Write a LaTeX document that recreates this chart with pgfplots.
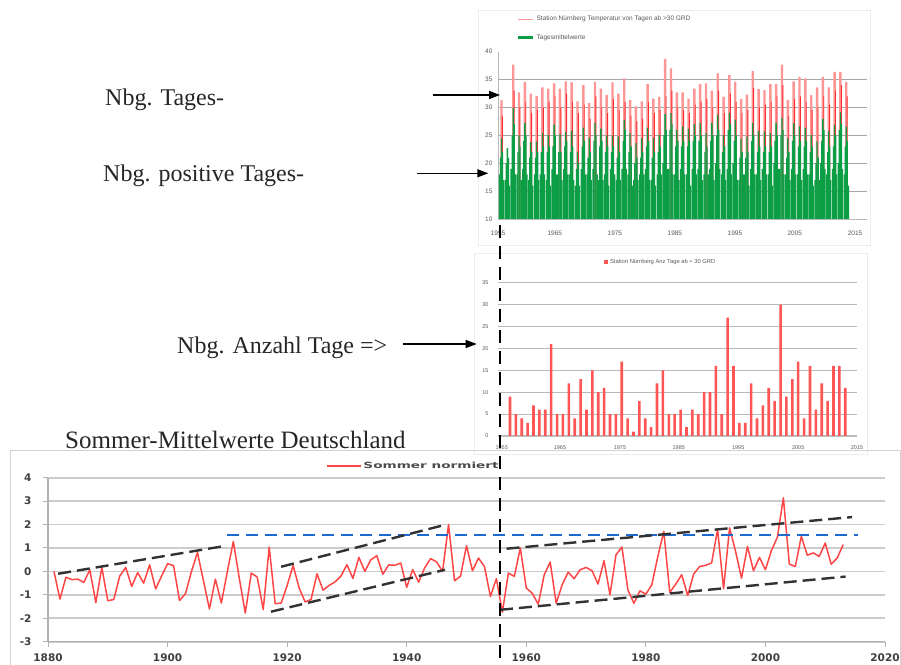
\documentclass[border=0pt]{standalone}
\usepackage{pgfplots}
\pgfplotsset{compat=1.18}
\usepackage{pgfplotstable}
\usepackage{fontspec}
\setmainfont{Liberation Serif}
\newfontfamily\lsans{Liberation Sans}
\newfontfamily\dvsans{DejaVu Sans}
\usetikzlibrary{arrows.meta}
\definecolor{pinkc}{RGB}{255,150,150}
\definecolor{darkred}{RGB}{255,45,45}
\definecolor{gbar}{RGB}{12,158,68}
\definecolor{midred}{RGB}{255,85,85}
\definecolor{linered}{RGB}{255,70,70}
\definecolor{trendc}{RGB}{50,50,50}
\definecolor{bluedash}{RGB}{30,105,205}
\definecolor{tickgray}{RGB}{90,90,90}

% top chart: one cluster per summer (R = max temp, D = secondary max, G = peak daily mean, A,B,C,E = other daily means)
\pgfplotstableread{
x R D G A B C E
0 31.3 28.5 24.5 18 21 22 17
1 10 10 22.7 17 20 21 16
2 37.7 33 29.9 19 25 27 18
3 32.7 30 25 18 22 23 17
4 34.6 31 27.2 19 24 25 18
5 32.5 29 23.8 17 21 22 16
6 32.1 29.5 23.9 18 21 22 17
7 33.6 30 25.4 18 22 23 18
8 33.4 31 25.1 17 22 23 16
9 34.3 32 26.9 19 23 25 18
10 33.4 30 25.2 18 22 22 17
11 34.7 32.5 25.6 19 23 24 18
12 34.5 31 25.8 18 22 23 17
13 31.1 29 22.1 16 19 20 16
14 34.0 30.5 26.4 19 23 24 18
15 30.8 28 24.6 18 21 22 17
16 34.6 32 27.2 19 24 25 18
17 33.4 30 26.2 17 23 24 17
18 32.2 29 25.0 18 22 23 16
19 34.5 31.5 25.0 19 22 23 18
20 32.5 29.5 24.8 17 21 22 17
21 35.2 31 27.8 19 24 26 19
22 31.3 28.5 25.4 18 22 23 16
23 30.2 27.5 23.6 17 20 21 17
24 31.1 28 24.5 18 21 22 18
25 34.2 31 26.4 19 23 24 17
26 31.6 29 24.6 17 21 22 16
27 31.9 29.5 25.1 18 22 23 18
28 38.7 32 28.8 20 25 26 19
29 37.0 33 29.0 19 26 27 18
30 32.7 30 26.0 18 23 24 17
31 32.7 29.5 26.6 19 23 24 18
32 31.6 29 26.2 18 23 24 16
33 33.4 30.5 27.0 19 24 25 18
34 34.2 31 27.2 19 24 25 17
35 34.3 31.5 25.4 18 22 23 18
36 33.0 30 27.2 19 24 25 17
37 36.1 33 28.7 20 25 26 19
38 31.9 29 25.1 18 22 23 17
39 35.8 32.5 29.0 19 26 27 18
40 34.6 31 27.8 20 24 25 17
41 31.5 29 24.4 17 21 22 18
42 32.3 29.5 24.8 18 21 22 16
43 36.5 33.5 27.2 19 24 25 18
44 33.3 30 25.8 18 22 23 17
45 33.1 30.5 25.7 19 22 23 18
46 34.2 31 25.4 18 22 23 16
47 34.2 32 27.2 20 24 25 19
48 37.7 34 28.1 19 25 26 18
49 31.3 28.5 24.5 18 21 22 17
50 34.7 31.5 27.2 19 24 25 18
51 35.5 32 26.6 18 23 24 17
52 35.2 31 26.4 19 23 24 18
53 32.2 29.5 25.1 18 22 23 16
54 33.6 30 23.9 17 20 21 17
55 35.5 32 27.9 20 24 26 19
56 33.6 30.5 25.8 18 22 23 17
57 36.4 33 26.9 19 23 25 18
58 36.4 34 29.1 20 26 27 19
59 34.6 32 26.6 18 23 24 16
}\toptab

% middle chart: number of days >= 30 deg per year
\pgfplotstableread{
x n
0 9
1 5
2 4
3 3
4 7
5 6
6 6
7 21
8 5
9 5
10 12
11 4
12 13
13 6
14 15
15 10
16 11
17 5
18 5
19 17
20 4
21 1
22 8
23 4
24 2
25 12
26 15
27 5
28 5
29 6
30 2
31 6
32 5
33 10
34 10
35 16
36 5
37 27
38 16
39 3
40 3
41 12
42 4
43 7
44 11
45 8
46 30
47 9
48 13
49 17
50 4
51 16
52 6
53 12
54 8
55 16
56 16
57 11
}\midtab

% bottom chart: normalised German summer means
\pgfplotstableread{
year v
1881 0.0
1882 -1.18
1883 -0.25
1884 -0.35
1885 -0.33
1886 -0.47
1887 0.07
1888 -1.33
1889 0.17
1890 -1.25
1891 -1.2
1892 -0.2
1893 0.17
1894 -0.64
1895 -0.05
1896 -0.5
1897 0.28
1898 -0.75
1899 -0.2
1900 0.33
1901 0.25
1902 -1.24
1903 -0.95
1904 0.0
1905 0.81
1906 -0.4
1907 -1.6
1908 -0.33
1909 -1.35
1910 0.0
1911 1.28
1912 -0.3
1913 -1.78
1914 -0.07
1915 -0.24
1916 -1.63
1917 1.04
1918 -1.38
1919 -1.35
1920 -0.6
1921 0.25
1922 -0.7
1923 -1.3
1924 -1.2
1925 -0.1
1926 -0.8
1927 -0.6
1928 -0.45
1929 -0.2
1930 0.29
1931 -0.3
1932 0.6
1933 0.0
1934 0.5
1935 0.67
1936 -0.12
1937 0.28
1938 0.26
1939 0.36
1940 -0.68
1941 0.08
1942 -0.46
1943 0.15
1944 0.55
1945 0.4
1946 0.0
1947 2.0
1948 -0.4
1949 -0.2
1950 1.1
1951 0.03
1952 0.57
1953 0.21
1954 -1.07
1955 -0.31
1956 -1.74
1957 -0.07
1958 -0.21
1959 1.0
1960 -0.71
1961 -0.93
1962 -1.4
1963 -0.14
1964 0.4
1965 -1.36
1966 -0.57
1967 -0.03
1968 -0.31
1969 0.07
1970 0.17
1971 0.03
1972 -0.54
1973 0.46
1974 -1.0
1975 0.71
1976 1.04
1977 -0.79
1978 -1.36
1979 -0.83
1980 -0.97
1981 -0.57
1982 0.64
1983 1.71
1984 -0.9
1985 -0.54
1986 -0.14
1987 -1.03
1988 -0.11
1989 0.21
1990 0.26
1991 0.36
1992 1.79
1993 -0.74
1994 1.86
1995 0.86
1996 -0.29
1997 1.07
1998 0.03
1999 0.6
2000 0.07
2001 0.89
2002 1.46
2003 3.14
2004 0.31
2005 0.21
2006 1.5
2007 0.69
2008 0.79
2009 0.64
2010 1.21
2011 0.31
2012 0.57
2013 1.14
}\bottab

\begin{document}
\begin{tikzpicture}[x=1pt,y=1pt]
\fill[white] (0,0) rectangle (901,664);
\path[use as bounding box] (0,0) rectangle (901,664);

% faint frames
\draw[gray!15, line width=0.6pt] (478,419) rectangle (870,654);
\draw[gray!15, line width=0.6pt] (474,210) rectangle (867,411);
\draw[gray!35, line width=0.8pt] (10,-2) rectangle (900,214);

% ---------------- top chart ----------------
\begin{axis}[at={(498pt,445pt)}, anchor=south west, scale only axis,
  width=369pt, height=167.3pt,
  xmin=-0.6, xmax=62.55, ymin=10, ymax=40,
  axis lines*=left, axis line style={draw=gray!55, line width=0.6pt},
  ytick={10,15,20,25,30,35}, extra y ticks={40}, extra y tick style={grid=none},
  ymajorgrids, grid style={draw=gray!70, line width=0.8pt},
  xtick={-0.6,9.13,19.4,29.67,39.95,50.2,60.5},
  xticklabels={1955,1965,1975,1985,1995,2005,2015},
  major tick length=0pt,
  tick label style={font=\lsans\fontsize{6.5}{7}\selectfont, text=tickgray},
  /pgf/number format/assume math mode=true,
  xticklabel style={yshift=-8pt},
  yticklabel style={xshift=-2pt},
  legend style={at={(axis description cs:0.05,1.225)}, anchor=north west, draw=none, fill=none,
    font=\lsans\fontsize{6.5}{7}\selectfont, text=tickgray, row sep=8pt, inner sep=0pt},
  legend cell align=left,
]
\addplot[ybar, bar width=2.4pt, bar shift=0pt, fill=pinkc, draw=none,
  legend image code/.code={\draw[pinkc, line width=1.4pt] (0pt,0pt) -- (15pt,0pt);}]
  table[x=x,y=R]{\toptab};
\addlegendentry{Station Nürnberg Temperatur von Tagen ab >30 GRD}
\addplot[ybar, bar width=0.9pt, bar shift=0.9pt, fill=darkred, draw=none, forget plot]
  table[x=x,y=D]{\toptab};
\addplot[ybar, bar width=1.5pt, bar shift=-2.0pt, fill=gbar, draw=none, forget plot]
  table[x=x,y=A]{\toptab};
\addplot[ybar, bar width=1.4pt, bar shift=-1.0pt, fill=gbar, draw=none, forget plot]
  table[x=x,y=B]{\toptab};
\addplot[ybar, bar width=1.4pt, bar shift=1.0pt, fill=gbar, draw=none, forget plot]
  table[x=x,y=C]{\toptab};
\addplot[ybar, bar width=1.5pt, bar shift=2.0pt, fill=gbar, draw=none, forget plot]
  table[x=x,y=E]{\toptab};
\addplot[ybar, bar width=1.3pt, bar shift=0pt, fill=gbar, draw=none,
  legend image code/.code={\draw[gbar, line width=3pt] (0pt,0pt) -- (15pt,0pt);}]
  table[x=x,y=G]{\toptab};
\addlegendentry{Tagesmittelwerte}
\end{axis}

% ---------------- middle chart ----------------
\begin{axis}[at={(498pt,228pt)}, anchor=south west, scale only axis,
  width=359pt, height=153.3pt,
  xmin=-2.04, xmax=59.0, ymin=0, ymax=35,
  axis lines*=left, axis line style={draw=gray!50, line width=0.6pt},
  y axis line style={draw=none},
  ytick={0,5,...,35},
  ymajorgrids, grid style={draw=gray!55, line width=1pt},
  xtick={-1.41,8.5,18.7,28.7,38.8,49.0,59.0},
  xticklabels={1955,1965,1975,1985,1995,2005,2015},
  major tick length=0pt,
  tick label style={font=\lsans\fontsize{5.5}{6}\selectfont, text=tickgray},
  /pgf/number format/assume math mode=true,
  xticklabel style={yshift=-6pt},
  yticklabel style={xshift=-6pt},
  legend style={at={(axis description cs:0.295,1.165)}, anchor=north west, draw=none, fill=none,
    font=\lsans\fontsize{5.8}{6}\selectfont, text=tickgray, inner sep=0pt},
]
\addplot[ybar, bar width=2.6pt, bar shift=0pt, fill=midred, draw=none,
  legend image code/.code={\fill[midred] (0pt,-2pt) rectangle (4pt,2pt);}]
  table[x=x,y=n]{\midtab};
\addlegendentry{Station Nürnberg Anz Tage ab + 30 GRD}
\end{axis}

% ---------------- bottom chart ----------------
\begin{axis}[at={(48pt,22.3pt)}, anchor=south west, scale only axis,
  width=837pt, height=164pt,
  xmin=1880, xmax=2020, ymin=-3, ymax=4,
  axis lines*=left, axis line style={draw=gray!60, line width=1.2pt},
  xtick={1880,1900,...,2020}, ytick={-3,...,4},
  ymajorgrids, grid style={draw=gray!40, line width=1.8pt},
  tick align=outside, major tick length=5pt, tick style={draw=gray!60, line width=1pt},
  tick label style={font=\dvsans\bfseries\fontsize{10.5}{12}\selectfont, text=black!75},
  /pgf/number format/assume math mode=true, /pgf/number format/1000 sep={},
  xticklabel style={yshift=-3pt},
  yticklabel style={xshift=-8pt},
  legend style={at={(axis description cs:0.332,1.108)}, anchor=north west, draw=none, fill=none,
    font=\dvsans\bfseries\fontsize{8.5}{10}\selectfont, text=black!70, inner sep=0pt},
  clip=false,
]
\addplot[color=linered, line width=1.5pt, line join=round,
  legend image code/.code={\draw[linered, line width=1.4pt] (0pt,0pt) -- (34pt,0pt);}]
  table[x=year,y=v]{\bottab};
\addlegendentry{\scalebox{1.6}[1]{Sommer normiert}}
\addplot[color=bluedash, line width=2pt, dash pattern=on 12pt off 7pt, forget plot]
  coordinates {(1910,1.54) (2015.4,1.54)};
\addplot[color=trendc, line width=2.4pt, dash pattern=on 13pt off 6pt, forget plot]
  coordinates {(1881.7,-0.1) (1909.9,1.1)};
\addplot[color=trendc, line width=2.4pt, dash pattern=on 13pt off 6pt, forget plot]
  coordinates {(1919.0,0.2) (1946.6,2.0)};
\addplot[color=trendc, line width=2.4pt, dash pattern=on 13pt off 6pt, forget plot]
  coordinates {(1917.3,-1.72) (1946.4,0.07)};
\addplot[color=trendc, line width=2.4pt, dash pattern=on 13pt off 6pt, forget plot]
  coordinates {(1956.7,0.97) (2014.5,2.32)};
\addplot[color=trendc, line width=2.4pt, dash pattern=on 13pt off 6pt, forget plot]
  coordinates {(1955.6,-1.64) (2013.4,-0.22)};
\end{axis}

% ---------------- annotations ----------------
\node[anchor=base west, inner sep=0, font=\fontsize{24}{28}\selectfont, text=black!85] at (105,558) {Nbg. Tages-};
\node[anchor=base west, inner sep=0, font=\fontsize{24}{28}\selectfont, text=black!85] at (103,482.3) {Nbg. positive Tages-};
\node[anchor=base west, inner sep=0, font=\fontsize{24}{28}\selectfont, text=black!85] at (177,310) {Nbg. Anzahl Tage =>};
\node[anchor=base west, inner sep=0, font=\fontsize{25}{28}\selectfont, text=black!85] at (65,215) {Sommer-Mittelwerte Deutschland};

\draw[line width=1.4pt, -{Triangle[length=11pt,width=8pt]}] (432.7,569) -- (500,569);
\draw[line width=1.4pt, -{Triangle[length=11pt,width=8pt]}] (416.7,490.7) -- (488.3,490.7);
\draw[line width=1.4pt, -{Triangle[length=11pt,width=8pt]}] (403,320) -- (476.7,320);

\draw[black, line width=2.2pt, dash pattern=on 13pt off 8pt] (500,439) -- (500,0);
\end{tikzpicture}
\end{document}
